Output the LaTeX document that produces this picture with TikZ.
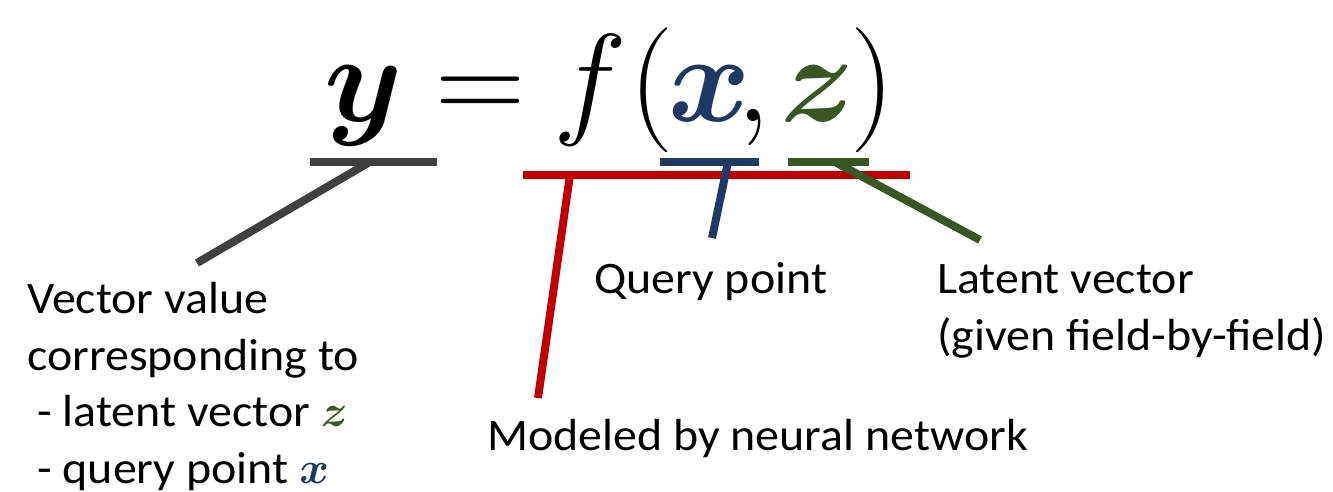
\RequirePackage{fix-cm}
\documentclass[tikz,border=0pt]{standalone}
\usepackage{amsmath}
\usepackage{fontspec}
\setmainfont{Carlito}[FakeStretch=1.065]
\definecolor{cgray}{HTML}{404040}
\definecolor{cred}{HTML}{C00000}
\definecolor{cblue}{HTML}{203864}
\definecolor{cgreen}{HTML}{385723}
\begin{document}
\begin{tikzpicture}[x=1pt,y=-1pt,
  eq/.style={anchor=base, inner sep=0pt, font=\fontsize{125}{125}\selectfont},
  lbl/.style={anchor=base west, inner sep=0pt, font=\fontsize{45}{56.5}\selectfont, align=left},
  bar/.style={line width=8pt}]
\useasboundingbox (0,0) rectangle (1333,492);
% equation
\node[eq] (ey) at (364,122) {$\boldsymbol{y}$};
\node[eq] (eeq) at (480,122) {$=$};
\node[eq] (ef) at (590,122) {$f$};
\node[eq] (elp) at (652,122) {$($};
\node[eq, text=cblue] (ex) at (710,122) {$\boldsymbol{x}$};
\node[eq] (ecomma) at (753,122) {$,$};
\node[eq, text=cgreen] (ez) at (818,122) {$\boldsymbol{z}$};
\node[eq] (erp) at (873,122) {$)$};
% bars
\coordinate (gl) at (310,162); \coordinate (gr) at (437,162);
\coordinate (gm) at (368,163); \coordinate (ga) at (197,263);
\coordinate (rl) at (523,175); \coordinate (rr) at (910,175);
\coordinate (rm) at (570,175); \coordinate (ra) at (538,398);
\coordinate (bl) at (660,162); \coordinate (br) at (759,162);
\coordinate (bm) at (728,162); \coordinate (ba) at (712,238);
\coordinate (nl) at (788,162); \coordinate (nr) at (869,162);
\coordinate (nm) at (835,162); \coordinate (na) at (980,240);
\draw[bar,cgray] (gl) -- (gr);
\draw[bar,cgray] (gm) -- (ga);
\draw[bar,cred] (rl) -- (rr);
\draw[bar,cred] (rm) -- (ra);
\draw[bar,cblue] (bl) -- (br);
\draw[bar,cblue] (bm) -- (ba);
\draw[bar,cgreen] (nl) -- (nr);
\draw[bar,cgreen] (nm) -- (na);
% labels (base anchor = baseline of last line)
\node[lbl] (lv) at (27,483) {Vector value\\corresponding to\\\hspace*{10pt}- latent vector \textcolor{cgreen}{$\boldsymbol{z}$}\\\hspace*{10pt}- query point \textcolor{cblue}{$\boldsymbol{x}$}};
\node[lbl] (lq) at (594,293) {Query point};
\node[lbl] (ll) at (937,350) {Latent vector\\(given field-by-field)};
\node[lbl] (lm) at (487,450) {Modeled by neural network};
\end{tikzpicture}
\end{document}
